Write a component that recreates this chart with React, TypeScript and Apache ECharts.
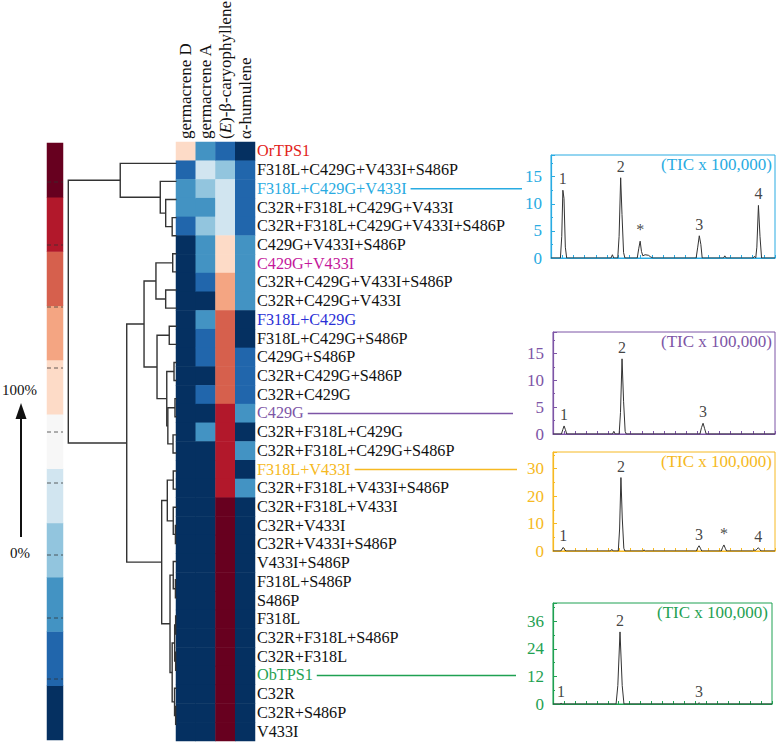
import React, { useEffect, useRef } from 'react';
import * as echarts from 'echarts';

// ---------- data ----------
const columns = ['germacrene D', 'germacrene A', '(E)-β-caryophyllene', 'α-humulene'];

const variants = [
  'OrTPS1',
  'F318L+C429G+V433I+S486P',
  'F318L+C429G+V433I',
  'C32R+F318L+C429G+V433I',
  'C32R+F318L+C429G+V433I+S486P',
  'C429G+V433I+S486P',
  'C429G+V433I',
  'C32R+C429G+V433I+S486P',
  'C32R+C429G+V433I',
  'F318L+C429G',
  'F318L+C429G+S486P',
  'C429G+S486P',
  'C32R+C429G+S486P',
  'C32R+C429G',
  'C429G',
  'C32R+F318L+C429G',
  'C32R+F318L+C429G+S486P',
  'F318L+V433I',
  'C32R+F318L+V433I+S486P',
  'C32R+F318L+V433I',
  'C32R+V433I',
  'C32R+V433I+S486P',
  'V433I+S486P',
  'F318L+S486P',
  'S486P',
  'F318L',
  'C32R+F318L+S486P',
  'C32R+F318L',
  'ObTPS1',
  'C32R',
  'C32R+S486P',
  'V433I',
];

// relative product amount (%) per variant
const germacreneD = [60, 14, 23, 23, 14, 3, 3, 3, 3, 3, 3, 3, 3, 3, 3, 3, 3, 3, 3, 3, 3, 3, 3, 3, 3, 3, 3, 3, 3, 3, 3, 3];
const germacreneA = [23, 41, 32, 23, 32, 23, 23, 14, 3, 23, 14, 14, 3, 14, 3, 23, 3, 3, 3, 3, 3, 3, 3, 3, 3, 3, 3, 3, 3, 3, 3, 3];
const caryophyllene = [14, 32, 41, 41, 41, 60, 60, 69, 69, 78, 78, 78, 78, 78, 87, 87, 87, 87, 87, 96, 96, 96, 96, 96, 96, 96, 96, 96, 96, 96, 96, 96];
const humulene = [3, 14, 14, 14, 14, 23, 23, 23, 23, 3, 3, 14, 14, 14, 23, 3, 23, 3, 23, 3, 3, 3, 3, 3, 3, 3, 3, 3, 3, 3, 3, 3];

const colorLevels = ['#053061', '#2166ac', '#4393c3', '#92c5de', '#d1e5f0', '#f7f7f7', '#fddbc7', '#f4a582', '#d6604d', '#b2182b', '#67001f'];
const colorBarValues = [4.5, 13.6, 22.7, 31.8, 40.9, 50, 59.1, 68.2, 77.3, 86.4, 95.5];

// dendrogram: [height, left, right]; leaves are positions 1..32
const dendrogram: any = [1.0,
  [0.52, 1, [0.15, 2, [0.10, 3, [0.04, 4, 5]]]],
  [0.46,
    [0.30,
      [0.19, [0.035, 6, 7], [0.10, 8, 9]],
      [0.18, [0.067, 10, 11], [0.09, [0.023, 12, 13], [0.08, [0.014, 14, 15], [0.032, 16, 17]]]]],
    [0.137,
      [0.085, [0.03, 18, 19], [0.03, 20, [0.01, 21, 22]]],
      [0.06, [0.03, 23, [0.01, 24, 25]], [0.04, [0.017, [0.008, 26, 27], [0.008, 28, 29]], [0.018, 30, [0.008, 31, 32]]]]]]];

// chromatograms [time, TIC/100000]
const tic1 = [[0, 0], [4.2, 0], [4.8, 4], [5.3, 12.5], [5.8, 11], [6.4, 2], [7, 0], [26.8, 0], [27.4, 0.6], [28, 0], [29.8, 0], [30.4, 4], [31.1, 14.8], [31.7, 8], [32.4, 1], [33, 0], [38.5, 0], [39.2, 1.8], [39.8, 3.1], [40.4, 1.2], [41, 0.4], [42, 0.6], [43.5, 0.5], [44.5, 0.2], [45.5, 0], [64.8, 0], [65.5, 2], [66.2, 4.1], [66.9, 2.5], [67.5, 0], [77, 0], [77.6, 0.4], [78.2, 0], [90.2, 0], [90.8, 0.3], [91.4, 0], [91.9, 2], [92.6, 9.7], [93.3, 4], [94, 0], [100, 0]];
const peaks1 = [['1', 5.3, 12.5], ['2', 31.1, 14.8], ['*', 39.8, 3.1], ['3', 66.2, 4.1], ['4', 92.6, 9.7]];

const tic2 = [[0, 0], [3.8, 0], [4.4, 0.8], [5, 1.5], [5.6, 0.8], [6.2, 0], [26.8, 0], [27.4, 0.5], [28, 0], [29.8, 0], [30.4, 4], [31.1, 14], [31.8, 6], [32.5, 0.5], [33, 0], [66.2, 0], [66.9, 1.2], [67.6, 2], [68.3, 1], [69, 0], [100, 0]];
const peaks2 = [['1', 5, 1.5], ['2', 31.1, 14], ['3', 67.6, 2]];

const tic3 = [[0, 0], [3.5, 0], [4.1, 0.7], [4.6, 1.3], [5.2, 0.6], [5.8, 0], [25.9, 0], [26.5, 0.6], [27.1, 0], [29.4, 0], [30, 8], [30.6, 26.7], [31.2, 12], [31.9, 1], [32.4, 0], [40.4, 0], [41, 0.4], [41.6, 0], [64.6, 0], [65.2, 1.2], [65.8, 1.9], [66.4, 1], [67, 0], [75.8, 0], [76.4, 1.3], [77, 2.2], [77.6, 1], [78.2, 0], [89.9, 0], [90.5, 0.4], [91.1, 0.2], [91.8, 0.6], [92.5, 1.2], [93.1, 0.6], [93.7, 0], [100, 0]];
const peaks3 = [['1', 4.6, 1.3], ['2', 30.6, 26.7], ['3', 65.8, 1.9], ['*', 77, 2.2], ['4', 92.5, 1.2]];

const tic4 = [[0, 0], [3.2, 0], [3.7, 0.3], [4.2, 0], [28.8, 0], [29.6, 8], [30.6, 31.4], [31.6, 8], [32.4, 0], [66, 0], [66.7, 0.5], [67.4, 0], [100, 0]];
const peaks4 = [['1', 3.7, 0.3], ['2', 30.6, 31.4], ['3', 66.7, 0.5]];

// ---------- styling / layout ----------
const SERIF = '"Liberation Serif", "Times New Roman", serif';
const ROW_FONT = 16.2;
const HEADER_FONT = 17;
const labelColors: Record<string, string> = {
  'OrTPS1': '#e2231a',
  'F318L+C429G+V433I': '#29abe2',
  'C429G+V433I': '#c4179b',
  'F318L+C429G': '#2a2fd6',
  'C429G': '#7d55a6',
  'F318L+V433I': '#f6b922',
  'ObTPS1': '#1fa152',
};
// connectors from a highlighted variant label to its chromatogram panel
const connectors = [
  { label: 'F318L+C429G+V433I', x2: 522 },
  { label: 'C429G', x2: 513 },
  { label: 'F318L+V433I', x2: 517 },
  { label: 'ObTPS1', x2: 516 },
];

const panels = [
  { trace: tic1, peaks: peaks1, max: 19, interval: 5, color: '#29abe2', left: 551, top: 155, width: 224, height: 103, titleRight: 5 },
  { trace: tic2, peaks: peaks2, max: 19, interval: 5, color: '#7d55a6', left: 553, top: 332, width: 222, height: 102, titleRight: 5 },
  { trace: tic3, peaks: peaks3, max: 36, interval: 10, color: '#f6b922', left: 553, top: 452, width: 222, height: 99, titleRight: 5 },
  { trace: tic4, peaks: peaks4, max: 44, interval: 12, color: '#1fa152', left: 553, top: 603, width: 219, height: 101, titleRight: 9 },
];

const HEAT = { left: 176, top: 142, width: 79, height: 599 };

function buildDendrogram(node: any, segs: number[][][]): { y: number; h: number } {
  if (typeof node === 'number') return { y: node, h: 0 };
  const [h, l, r] = node;
  const L = buildDendrogram(l, segs);
  const R = buildDendrogram(r, segs);
  segs.push([[L.h, L.y], [h, L.y], [h, R.y], [R.h, R.y]]);
  return { y: (L.y + R.y) / 2, h };
}

function textWidth(text: string, font: string) {
  const ctx = document.createElement('canvas').getContext('2d');
  if (!ctx) return text.length * 8;
  ctx.font = font;
  return ctx.measureText(text).width;
}

function buildOption() {
  const values = [germacreneD, germacreneA, caryophyllene, humulene];
  const heatData: number[][] = [];
  values.forEach((col, ci) => col.forEach((v, ri) => heatData.push([ci, ri, v])));

  const segs: number[][][] = [];
  buildDendrogram(dendrogram, segs);

  const step = 100 / colorLevels.length;
  const pieces = colorLevels.map((c, i) => ({ gte: i * step, lt: (i + 1) * step + (i === colorLevels.length - 1 ? 1 : 0), color: c }));

  const fixed = { outerBoundsMode: 'none', containLabel: false };
  const grid: any[] = [
    { ...HEAT, ...fixed },
    { left: 68.3, top: 163.3, width: 108.2, height: 561.2, ...fixed },
    { left: 47, top: 143, width: 16, height: 597, ...fixed },
  ];
  const xAxis: any[] = [
    {
      gridIndex: 0, type: 'category', data: columns, position: 'top',
      axisLine: { show: false }, axisTick: { show: false },
      axisLabel: {
        rotate: -90, interval: 0, margin: 3, fontFamily: SERIF, fontSize: HEADER_FONT, color: '#111',
        formatter: (v: string) => v.replace('(E)', '({it|E})'),
        rich: { it: { fontStyle: 'italic', fontFamily: SERIF, fontSize: HEADER_FONT, color: '#111' } },
      },
    },
    { gridIndex: 1, type: 'value', min: 0, max: 1, inverse: true, show: false },
    { gridIndex: 2, type: 'category', data: ['scale'], show: false },
  ];
  const yAxis: any[] = [
    {
      gridIndex: 0, type: 'category', data: variants, inverse: true, position: 'right',
      axisLine: { show: false }, axisTick: { show: false },
      axisLabel: {
        interval: 0, margin: 2, fontFamily: SERIF, fontSize: ROW_FONT,
        color: (v: string) => labelColors[v] || '#111',
      },
    },
    { gridIndex: 1, type: 'value', min: 1, max: 32, inverse: true, show: false },
    { gridIndex: 2, type: 'category', data: colorBarValues.map(String), show: false },
  ];
  const series: any[] = [
    { type: 'heatmap', xAxisIndex: 0, yAxisIndex: 0, data: heatData, itemStyle: { borderWidth: 0 }, emphasis: { disabled: true }, silent: true },
    {
      type: 'lines', coordinateSystem: 'cartesian2d', xAxisIndex: 1, yAxisIndex: 1, polyline: true, silent: true,
      lineStyle: { color: '#333', width: 1.4, opacity: 1 },
      data: segs.map((c) => ({ coords: c })),
    },
    {
      type: 'heatmap', xAxisIndex: 2, yAxisIndex: 2, silent: true, itemStyle: { borderWidth: 0 },
      data: colorBarValues.map((v, i) => [0, i, v]),
    },
  ];
  const title: any[] = [];

  panels.forEach((p, k) => {
    const gi = 3 + k;
    grid.push({ left: p.left, top: p.top, width: p.width, height: p.height, show: true, borderColor: p.color, borderWidth: 1, backgroundColor: 'transparent', ...fixed });
    xAxis.push({
      gridIndex: gi, type: 'value', min: 0, max: 100, interval: 5,
      axisLabel: { show: false }, splitLine: { show: false },
      axisLine: { lineStyle: { color: p.color, width: 1.2 } },
      axisTick: { inside: true, length: 3, lineStyle: { color: p.color } },
    });
    yAxis.push({
      gridIndex: gi, type: 'value', min: 0, max: p.max, interval: p.interval,
      splitLine: { show: false },
      axisLine: { show: true, lineStyle: { color: p.color, width: 1.2 } },
      axisTick: { inside: true, length: 4, lineStyle: { color: p.color } },
      minorTick: { show: true, splitNumber: 2, length: 2, lineStyle: { color: p.color } },
      axisLabel: { color: p.color, fontFamily: SERIF, fontSize: 17, margin: 9, showMaxLabel: false },
    });
    series.push({
      type: 'line', xAxisIndex: gi, yAxisIndex: gi, data: p.trace, showSymbol: false, symbol: 'none', silent: true,
      lineStyle: { color: '#333', width: 1 }, z: 3,
    });
    series.push({
      type: 'scatter', xAxisIndex: gi, yAxisIndex: gi, silent: true, symbol: 'circle', symbolSize: 1,
      itemStyle: { color: 'rgba(0,0,0,0)' },
      data: p.peaks.map((pk) => ({ name: pk[0], value: [pk[1], pk[2]] })),
      label: { show: true, position: 'top', distance: 3, formatter: '{b}', fontFamily: SERIF, fontSize: 16, color: '#111' },
      z: 4,
    });
    title.push({
      text: '(TIC x 100,000)', right: p.titleRight, top: p.top + 1, padding: 0,
      textStyle: { color: p.color, fontFamily: SERIF, fontSize: 17, fontWeight: 'normal' },
    });
  });

  const rowH = HEAT.height / variants.length;
  const rowFont = `${ROW_FONT}px ${SERIF}`;
  const connectorLines = connectors.map((c) => {
    const idx = variants.indexOf(c.label);
    const y = HEAT.top + (idx + 0.5) * rowH;
    const x1 = HEAT.left + HEAT.width + 2 + textWidth(c.label, rowFont) + 4;
    return { type: 'line', z: 10, shape: { x1, y1: y, x2: c.x2, y2: y }, style: { stroke: labelColors[c.label], lineWidth: 1.5 } };
  });

  const dashYs = [182, 245, 307, 368, 432, 483, 555, 618, 679];
  const serif15 = `15px ${SERIF}`;
  const graphic: any[] = [
    ...dashYs.map((y) => ({ type: 'line', z: 100, shape: { x1: 47, y1: y, x2: 63, y2: y }, style: { stroke: 'rgba(50,50,50,0.75)', lineWidth: 1, lineDash: [4, 3] }, silent: true })),
    { type: 'text', x: 2, y: 382, style: { text: '100%', font: serif15, fill: '#111' } },
    { type: 'text', x: 10, y: 545, style: { text: '0%', font: serif15, fill: '#111' } },
    { type: 'line', shape: { x1: 21, y1: 537, x2: 21, y2: 414 }, style: { stroke: '#111', lineWidth: 2 } },
    { type: 'polygon', shape: { points: [[15.5, 419], [21, 403], [26.5, 419]] }, style: { fill: '#111' } },
    ...connectorLines,
  ];

  return {
    animation: false,
    backgroundColor: '#fff',
    title,
    grid,
    xAxis,
    yAxis,
    visualMap: { type: 'piecewise', show: false, dimension: 2, seriesIndex: [0, 2], pieces },
    series,
    graphic,
  };
}

export default function App() {
  const ref = useRef<HTMLDivElement>(null);
  useEffect(() => {
    if (!ref.current) return;
    const chart = echarts.init(ref.current, null, { renderer: 'svg' });
    chart.setOption(buildOption() as any);
    return () => chart.dispose();
  }, []);
  return <div ref={ref} style={{ position: 'absolute', left: 0, top: 0, width: 777, height: 743, background: '#fff' }} />;
}
